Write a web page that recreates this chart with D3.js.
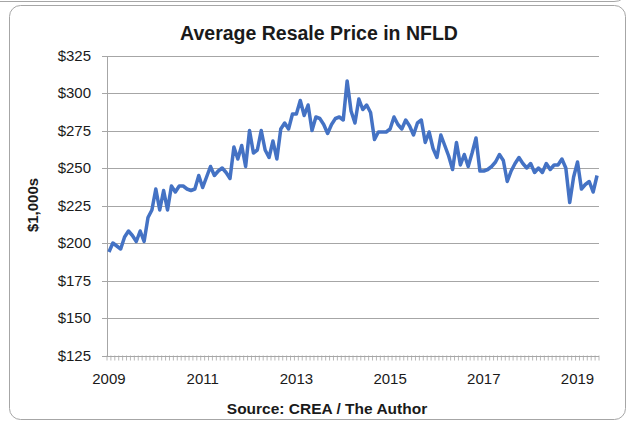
<!DOCTYPE html>
<html>
<head>
<meta charset="utf-8">
<script src="https://cdn.jsdelivr.net/npm/d3@7"></script>
<style>
  body { margin: 0; background: #fff; }
  text { font-family: "Liberation Sans", Arial, sans-serif; fill: #1a1a1a; }
</style>
</head>
<body>
<svg width="629" height="424"></svg>
<script>
// monthly average resale price, $1,000s, Jan 2009 - Jun 2019
var prices = [
  194, 200, 198, 196, 204, 208, 205, 201, 208, 201, 217, 222,
  236, 222, 235, 222, 238, 234, 238, 238, 236, 235, 236, 245,
  237, 244, 251, 245, 248, 250, 247, 243, 264, 256, 265, 251,
  275, 260, 262, 275, 262, 257, 268, 256, 276, 280, 276, 286,
  286, 295, 285, 292, 275, 284, 283, 279, 273, 279, 283, 284,
  282, 308, 288, 280, 296, 289, 292, 287, 269, 274, 274, 274,
  276, 284, 279, 276, 282, 278, 272, 280, 282, 267, 274, 263,
  257, 272, 265, 258, 249, 267, 252, 259, 251, 260, 270, 248,
  248, 249, 251, 254, 259, 255, 241, 248, 253, 257, 253, 250,
  253, 247, 250, 247, 253, 249, 252, 252, 256, 250, 227, 244,
  254, 236, 239, 241, 234, 245
];
var yearLabels = ["2009", "2011", "2013", "2015", "2017", "2019"];
var yTicks = [125, 150, 175, 200, 225, 250, 275, 300, 325];

// one category per month
var months = d3.timeMonth.range(new Date(2009, 0, 1), new Date(2019, 6, 1))
  .map(d3.timeFormat("%Y-%m"));

var svg = d3.select("svg"),
    plotLeft = 107, plotRight = 599, plotTop = 55.5, plotBottom = 355.5;

// frame
svg.append("path")
   .attr("d", "M0,1.5 H614 Q624,1.5 626,-8")
   .attr("fill", "none")
   .attr("stroke", "#a6a6a6");
svg.append("rect")
   .attr("x", 9.5).attr("y", 5.5)
   .attr("width", 616).attr("height", 414)
   .attr("rx", 11)
   .attr("fill", "#fff")
   .attr("stroke", "#a6a6a6");

var x = d3.scaleBand().domain(months).range([plotLeft, plotRight]),
    y = d3.scaleLinear().domain([125, 325]).range([plotBottom, plotTop]);

// gridlines + y axis
svg.append("g")
   .attr("transform", "translate(" + plotRight + ",0)")
   .call(d3.axisLeft(y).tickValues(yTicks).tickSize(plotRight - plotLeft + 5).tickFormat(""))
   .call(function(g) {
     g.select(".domain").remove();
     g.selectAll("line").attr("stroke", "#a6a6a6").attr("shape-rendering", "crispEdges");
   });

svg.append("line")
   .attr("x1", plotLeft).attr("x2", plotLeft)
   .attr("y1", plotTop).attr("y2", plotBottom)
   .attr("stroke", "#a6a6a6")
   .attr("shape-rendering", "crispEdges");

svg.append("g")
   .attr("transform", "translate(" + (plotLeft - 5) + ",0)")
   .call(d3.axisLeft(y).tickValues(yTicks).tickSize(0).tickPadding(11)
     .tickFormat(function(d) { return "$" + d; }))
   .call(function(g) {
     g.select(".domain").remove();
     g.selectAll("text").style("font-size", "15px").attr("fill", "#1a1a1a");
   });

// minor ticks on month boundaries
svg.append("g")
   .selectAll("line")
   .data(months.concat([null]))
   .enter().append("line")
   .attr("x1", function(d) { return d ? x(d) : plotRight; })
   .attr("x2", function(d) { return d ? x(d) : plotRight; })
   .attr("y1", plotBottom).attr("y2", plotBottom + 5)
   .attr("stroke", "#a6a6a6")
   .attr("stroke-width", 0.8);

// year labels
var yearTicks = yearLabels.map(function(yr) { return yr + "-01"; });
svg.append("g")
   .attr("transform", "translate(0," + plotBottom + ")")
   .call(d3.axisBottom(x).tickValues(yearTicks).tickSize(0).tickPadding(18)
     .tickFormat(function(d) { return d.slice(0, 4); }))
   .call(function(g) {
     g.select(".domain").remove();
     g.selectAll("text").style("font-size", "15px").attr("fill", "#1a1a1a");
   });

// price line
var line = d3.line()
  .x(function(d, i) { return x(months[i]) + x.bandwidth() / 2; })
  .y(function(d) { return y(d); });

svg.append("path")
   .datum(prices)
   .attr("d", line)
   .attr("fill", "none")
   .attr("stroke", "#4472c4")
   .attr("stroke-width", 3.5)
   .attr("stroke-linejoin", "round");

// titles
svg.append("text")
   .attr("x", 319).attr("y", 40)
   .attr("text-anchor", "middle")
   .style("font-size", "19.5px").style("font-weight", "bold")
   .text("Average Resale Price in NFLD");

svg.append("text")
   .attr("transform", "translate(38,205) rotate(-90)")
   .attr("text-anchor", "middle")
   .style("font-size", "15px").style("font-weight", "bold")
   .text("$1,000s");

svg.append("text")
   .attr("x", 327).attr("y", 414)
   .attr("text-anchor", "middle")
   .style("font-size", "15.5px").style("font-weight", "bold")
   .text("Source:  CREA / The Author");
</script>
</body>
</html>
